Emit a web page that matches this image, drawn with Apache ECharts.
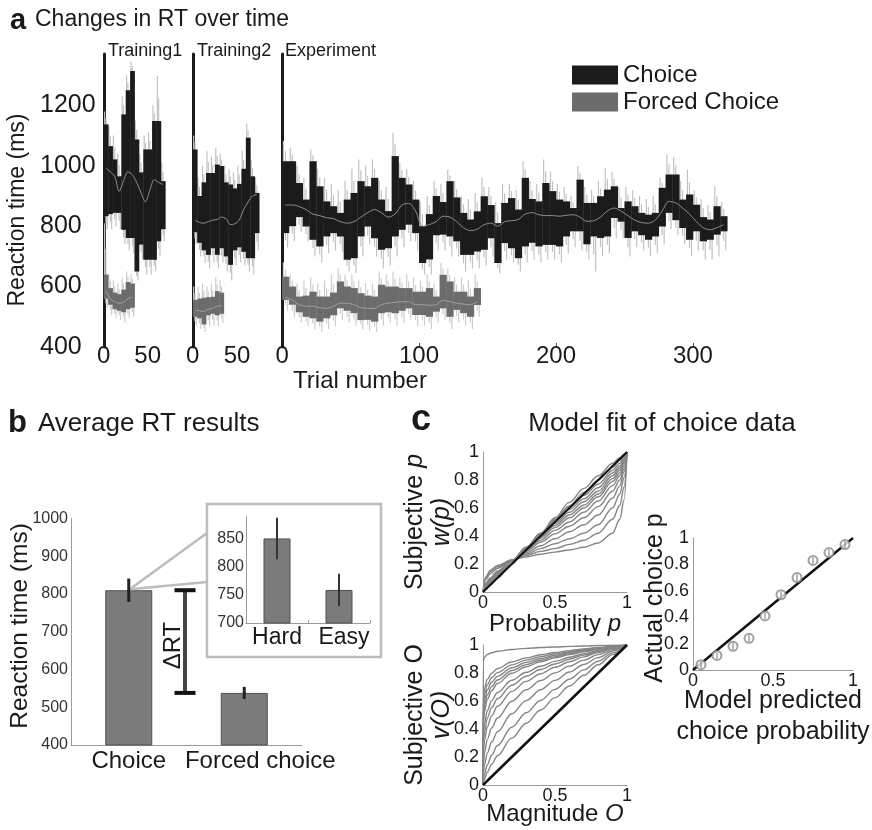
<!DOCTYPE html>
<html><head><meta charset="utf-8">
<script src="https://cdn.jsdelivr.net/npm/echarts@6/dist/echarts.min.js"></script>
<style>html,body{margin:0;padding:0;background:#fff}#c{width:872px;height:830px}</style>
</head><body><div id="c"></div>
<script>
// ---------------- DATA ----------------
const blockSize = 5; // trials per block
const aYTicks = [400, 600, 800, 1000, 1200];
const trainXTicks = [0, 50];
const expXTicks = [0, 100, 200, 300];

// Training1 - choice
const t1Hi   = [1137,1065,1021,965,1170,1250,1314,1087,978,1054,1054,1148,1148,949];
const t1Lo   = [833,840,844,844,788,761,761,650,739,689,689,689,750,790];
const t1Mean = [993,980,965,915,950,980,970,945,910,880,920,954,945,938];
const t1SpHi = [1180,1130,1100,1040,1230,1300,1345,1150,1040,1100,1110,1200,1297,1010];
const t1SpLo = [790,790,800,790,740,720,710,620,690,640,640,650,700,750];
// Training1 - forced
const t1fHi   = [640,595,580,575,590,615,610];
const t1fLo   = [560,540,525,520,515,525,530];
const t1fMean = [585,560,550,545,548,560,565];
const t1fSpHi = [810,640,620,610,630,650,640];
const t1fSpLo = [530,505,495,490,480,495,500];
// Training2 - choice
const t2Hi   = [1054,900,945,976,976,1004,999,945,938,925,940,990,1093,965,910];
const t2Lo   = [780,745,720,705,727,705,727,700,672,720,730,715,694,694,777];
const t2Mean = [820,812,810,815,820,822,830,825,805,808,820,855,880,900,905];
const t2SpHi = [1100,960,1000,1050,1030,1060,1040,1000,990,980,1000,1050,1140,1020,960];
const t2SpLo = [740,700,680,660,680,660,680,650,620,670,680,670,650,640,720];
// Training2 - forced
const t2fHi   = [556,560,563,565,566,585,580];
const t2fLo   = [500,495,475,505,510,505,510];
const t2fMean = [522,520,518,525,528,535,538];
const t2fSpHi = [600,600,610,600,610,630,620];
const t2fSpLo = [470,460,450,470,470,470,480];
// Experiment - choice
const exHi = [1015,1015,943,888,1015,932,882,866,844,888,910,949,932,960,888,850,1032,960,938,888,800,
  840,900,880,949,895,844,822,849,899,870,810,877,893,855,960,890,882,943,916,888,882,
  860,954,877,877,899,921,932,860,882,866,844,838,844,927,971,971,888,905,871,830,822,866,833];
const exLo = [777,800,830,799,755,733,766,777,766,689,694,766,799,760,722,727,766,788,805,777,678,
  690,770,772,766,750,705,705,716,722,760,678,744,727,694,733,745,733,738,738,733,766,
  783,783,740,766,761,766,827,815,761,783,770,755,766,799,844,820,794,755,783,750,755,772,783];
const exMean = [870,870,865,855,840,835,828,825,815,810,815,830,845,855,845,830,840,870,875,850,800,
  805,815,833,830,815,795,785,790,805,810,800,815,818,822,840,845,838,835,835,833,836,
  838,830,816,818,830,850,860,850,835,820,812,810,820,850,882,877,860,840,815,795,788,795,805];
const exSpHi = [1082,1060,1000,960,1054,990,960,940,920,950,990,1021,1000,1021,950,930,1109,1010,990,950,880,
  900,950,940,987,950,900,890,910,960,930,880,940,940,920,1015,950,940,1021,982,940,930,
  900,999,930,920,950,993,980,930,930,920,900,890,900,960,1037,1030,950,987,920,890,870,932,880];
const exSpLo = [730,750,780,750,700,680,710,720,715,650,645,700,740,700,660,670,700,730,750,720,640,
  640,720,720,700,700,650,660,661,670,700,644,690,680,650,680,690,680,690,690,680,710,
  730,720,690,650,700,710,760,760,700,730,720,700,710,740,790,770,740,700,720,690,690,700,720];
// Experiment - forced
const exfHi = [633,600,567,570,583,567,567,580,617,600,595,578,570,567,606,600,600,595,595,583,583,595,567,639,617,583,583,567,595];
const exfLo = [556,540,515,500,495,484,495,505,528,520,512,489,490,484,512,515,512,520,528,506,506,500,517,528,500,523,512,500,539];
const exfMean = [565,555,540,535,535,530,528,535,545,545,540,530,528,528,540,545,548,550,550,540,540,538,540,555,550,545,542,540,550];
const exfSpHi = [680,640,610,620,630,610,620,640,660,640,640,620,610,610,650,640,650,630,640,630,620,640,610,680,660,630,630,620,640];
const exfSpLo = [520,500,480,470,460,450,460,470,490,480,470,460,455,450,470,480,470,480,490,470,470,460,480,490,460,480,470,460,500];

// Panel b
const barCats = ['Choice', 'Forced choice'];
const barMeans = [810, 538];
const barErr = [31, 16];
const insetCats = ['Hard', 'Easy'];
const insetMeans = [851, 759];
const insetErr = [37, 29];

// Panel c
const pGrid = [0,0.02,0.05,0.1,0.2,0.3,0.4,0.5,0.6,0.7,0.8,0.9,0.95,0.98,1];
const wCurves = [
  [0,0.11,0.155,0.19,0.23,0.25,0.27,0.285,0.30,0.32,0.35,0.42,0.52,0.66,1],
  [0,0.10,0.145,0.18,0.225,0.26,0.29,0.31,0.34,0.37,0.42,0.52,0.62,0.75,1],
  [0,0.09,0.13,0.17,0.225,0.27,0.31,0.345,0.38,0.42,0.48,0.60,0.70,0.82,1],
  [0,0.065,0.10,0.15,0.22,0.28,0.33,0.38,0.43,0.48,0.55,0.67,0.76,0.86,1],
  [0,0.06,0.095,0.145,0.225,0.29,0.355,0.415,0.47,0.53,0.61,0.72,0.80,0.88,1],
  [0,0.055,0.09,0.14,0.225,0.30,0.37,0.44,0.50,0.57,0.65,0.76,0.83,0.90,1],
  [0,0.05,0.085,0.135,0.225,0.305,0.385,0.46,0.53,0.60,0.68,0.79,0.85,0.92,1],
  [0,0.045,0.08,0.13,0.225,0.31,0.395,0.475,0.55,0.62,0.70,0.81,0.87,0.93,1],
  [0,0.04,0.075,0.125,0.225,0.315,0.405,0.49,0.57,0.645,0.72,0.83,0.885,0.94,1],
  [0,0.035,0.07,0.12,0.22,0.32,0.415,0.505,0.59,0.665,0.745,0.85,0.90,0.95,1],
  [0,0.03,0.065,0.115,0.22,0.32,0.42,0.52,0.61,0.69,0.77,0.87,0.92,0.96,1],
  [0,0.03,0.065,0.115,0.215,0.315,0.415,0.515,0.615,0.71,0.80,0.89,0.94,0.97,1],
  [0,0.02,0.05,0.10,0.20,0.31,0.42,0.53,0.64,0.74,0.83,0.92,0.96,0.985,1]
];
const oGrid = [0,0.002,0.01,0.03,0.06,0.1,0.2,0.3,0.4,0.5,0.6,0.7,0.8,0.9,1];
const vCurves = [
  [0,0.883,0.912,0.932,0.945,0.955,0.968,0.976,0.982,0.986,0.990,0.993,0.996,0.998,1],
  [0,0.608,0.692,0.755,0.799,0.832,0.879,0.908,0.930,0.946,0.960,0.972,0.982,0.992,1],
  [0,0.554,0.646,0.717,0.766,0.803,0.858,0.892,0.917,0.936,0.952,0.967,0.979,0.990,1],
  [0,0.505,0.602,0.680,0.734,0.776,0.838,0.876,0.904,0.927,0.945,0.962,0.976,0.988,1],
  [0,0.460,0.562,0.645,0.703,0.750,0.818,0.860,0.891,0.917,0.938,0.956,0.972,0.987,1],
  [0,0.419,0.525,0.612,0.674,0.725,0.798,0.845,0.880,0.908,0.931,0.951,0.969,0.985,1],
  [0,0.327,0.437,0.532,0.603,0.661,0.748,0.805,0.848,0.883,0.912,0.938,0.961,0.981,1],
  [0,0.271,0.380,0.479,0.554,0.616,0.713,0.777,0.825,0.864,0.898,0.928,0.954,0.978,1],
  [0,0.211,0.316,0.416,0.495,0.562,0.669,0.740,0.795,0.841,0.880,0.915,0.946,0.974,1],
  [0,0.137,0.229,0.326,0.407,0.479,0.598,0.680,0.746,0.801,0.849,0.892,0.931,0.967,1],
  [0,0.074,0.145,0.229,0.307,0.380,0.509,0.603,0.680,0.747,0.807,0.861,0.910,0.957,1],
  [0,0.033,0.079,0.145,0.213,0.282,0.413,0.516,0.604,0.683,0.755,0.822,0.884,0.944,1],
  [0,0.015,0.044,0.092,0.148,0.209,0.335,0.441,0.536,0.624,0.707,0.784,0.859,0.931,1]
];
const predP = [0.05,0.15,0.25,0.35,0.45,0.55,0.65,0.75,0.85,0.95];
const actualP = [0.04,0.11,0.18,0.24,0.41,0.57,0.70,0.83,0.89,0.95];
const actualErr = [0.025,0.025,0.025,0.025,0.025,0.025,0.025,0.025,0.025,0.025];

// ---------------- LAYOUT / STYLE ----------------
const FONT = '"Liberation Sans", Arial, Helvetica, sans-serif';
const TXT = '#1a1a1a';
const AX = '#9a9a9a';
const G = {
  t1: {left:102, top:54, width:65, height:293},
  t2: {left:191, top:54, width:69, height:293},
  ex: {left:280, top:54, width:454, height:293},
  b:  {left:71, top:518.5, width:231, height:226.5},
  ins:{left:246, top:516.6, width:124, height:106.4},
  c1: {left:483, top:452, width:144, height:140},
  c2: {left:483, top:645, width:144, height:140},
  c3: {left:693, top:538, width:160, height:132}
};
const insetBox = {x:207, y:504, w:174, h:153};
const CH_DARK = '#1b1b1b', CH_LIGHT = '#c2c2c2', CH_MEAN = '#8e8e8e';
const FC_DARK = '#6c6c6c', FC_LIGHT = '#cdcdcd', FC_MEAN = '#a0a0a0';
const plain = v => String(v);

function rectRender(color) {
  return function (params, api) {
    const a = api.coord([api.value(0), api.value(3)]);
    const b = api.coord([api.value(1), api.value(2)]);
    return {type:'rect', shape:{x:a[0], y:a[1], width:b[0]-a[0]+0.4, height:b[1]-a[1]}, style:{fill:color}};
  };
}
// halo: thin spikes within each block (dims: start, end, lo, hi, spikeLo, spikeHi)
function spikeRender(color) {
  return function (params, api) {
    const x0 = api.value(0), x1 = api.value(1);
    const lo = api.value(2), hi = api.value(3), sLo = api.value(4), sHi = api.value(5);
    const seg = (f, top, bot) => {
      const a = api.coord([x0 + (x1 - x0) * f, top]), b = api.coord([x0 + (x1 - x0) * f, bot]);
      return {type:'line', shape:{x1:a[0], y1:a[1], x2:b[0], y2:b[1]}, style:{stroke:color, lineWidth:1.2}};
    };
    return {type:'group', children:[
      seg(0.2, sHi, lo),
      seg(0.5, (hi + sHi) / 2, (lo + sLo) / 2),
      seg(0.8, hi, sLo)
    ]};
  };
}
function blocks(lo, hi) { return hi.map((h, k) => [k*blockSize, (k+1)*blockSize, lo[k], h]); }
function bandSet(g, name, d, dark, light, meanColor) {
  return [
    {type:'custom', name:'halo', xAxisIndex:g, yAxisIndex:g, silent:true, z:1,
     data: d.hi.map((h, k) => [k*blockSize, (k+1)*blockSize, d.lo[k], h, d.spLo[k], d.spHi[k]]),
     renderItem: spikeRender(light)},
    {type:'custom', name:name, xAxisIndex:g, yAxisIndex:g, silent:true, z:2, itemStyle:{color:dark},
     data: blocks(d.lo, d.hi), renderItem: rectRender(dark)},
    {type:'line', name:'mean', xAxisIndex:g, yAxisIndex:g, silent:true, z:3, symbol:'none', smooth:0.3,
     lineStyle:{color:meanColor, width:1}, data: d.mean.map((m, k) => [k*blockSize + blockSize/2, m])}
  ];
}
const segs = [
  {g:0, ch:{hi:t1Hi, lo:t1Lo, mean:t1Mean, spHi:t1SpHi, spLo:t1SpLo}, fc:{hi:t1fHi, lo:t1fLo, mean:t1fMean, spHi:t1fSpHi, spLo:t1fSpLo}},
  {g:1, ch:{hi:t2Hi, lo:t2Lo, mean:t2Mean, spHi:t2SpHi, spLo:t2SpLo}, fc:{hi:t2fHi, lo:t2fLo, mean:t2fMean, spHi:t2fSpHi, spLo:t2fSpLo}},
  {g:2, ch:{hi:exHi, lo:exLo, mean:exMean, spHi:exSpHi, spLo:exSpLo}, fc:{hi:exfHi, lo:exfLo, mean:exfMean, spHi:exfSpHi, spLo:exfSpLo}}
];

// ---------------- AXES ----------------
const grids = [G.t1, G.t2, G.ex, G.b, G.ins, G.c1, G.c2, G.c3];
const noSplit = {show:false};
function aX(min, max, ticks, tickMarks) {
  return {type:'value', min:min, max:max, splitLine:noSplit,
    axisLine:{show:false},
    axisTick: tickMarks ? {show:true, inside:true, length:4, customValues:tickMarks, lineStyle:{color:'#555', width:1}} : {show:false},
    axisLabel:{customValues:ticks, fontSize:24, color:TXT, margin:-3, formatter:plain}};
}
function aY(showLabels) {
  return {type:'value', min:400, max:1370, interval:200, splitLine:noSplit,
    axisLine:{show:true, lineStyle:{color:'#1a1a1a', width:3}}, axisTick:{show:false},
    axisLabel: showLabels ? {customValues:aYTicks, fontSize:25, color:TXT, align:'left', margin:62, formatter:plain} : {show:false}};
}
const richName = (size, lh) => ({
  n:{fontSize:size, color:TXT, lineHeight:lh, fontFamily:FONT},
  i:{fontSize:size, color:TXT, lineHeight:lh, fontStyle:'italic', fontFamily:FONT}
});
function cX(name, gap) {
  return {type:'value', min:0, max:1, interval:0.5, splitLine:noSplit,
    axisLine:{show:true, onZero:false, lineStyle:{color:AX, width:1}}, axisTick:{show:false},
    axisLabel:{fontSize:18, color:TXT, margin:2, formatter:plain},
    name:name, nameLocation:'middle', nameGap:gap, nameMoveOverlap:false,
    nameTextStyle:{fontSize:24, color:TXT, rich:richName(24, 26)}};
}
function cY(name, gap, size, lh) {
  return {type:'value', min:0, max:1, interval:0.2, splitLine:noSplit,
    axisLine:{show:true, onZero:false, lineStyle:{color:AX, width:1}}, axisTick:{show:false},
    axisLabel:{fontSize:18, color:TXT, margin:4, formatter:plain},
    name:name, nameLocation:'middle', nameRotate:90, nameGap:gap, nameMoveOverlap:false,
    nameTextStyle:{fontSize:size, color:TXT, lineHeight:lh, rich:richName(size, lh)}};
}

const xAxis = [
  aX(-2, 72, trainXTicks, null),
  aX(-2, 76, trainXTicks, null),
  aX(-1.5, 330, expXTicks, [100, 200, 300]),
  {type:'category', data:barCats, axisLine:{lineStyle:{color:AX, width:1}}, axisTick:{show:false},
   axisLabel:{interval:0, fontSize:24, color:TXT, margin:4,
     formatter: v => v === barCats[1] ? '{f|' + v + '}' : v,
     rich:{f:{fontSize:24, color:TXT, padding:[0,0,0,32], fontFamily:FONT}}}},
  {type:'category', data:insetCats, axisLine:{lineStyle:{color:AX, width:1}},
   axisTick:{show:true, inside:true, length:3, lineStyle:{color:AX}},
   axisLabel:{interval:0, fontSize:23, color:TXT, margin:3,
     formatter: v => v === insetCats[1] ? '{f|' + v + '}' : v,
     rich:{f:{fontSize:23, color:TXT, padding:[0,0,0,10], fontFamily:FONT}}}},
  cX('{n|Probability }{i|p}', 19),
  cX('{n|Magnitude }{i|O}', 16),
  Object.assign(cX('Model predicted\nchoice probability', 16), {nameTextStyle:{fontSize:25, lineHeight:31, color:TXT}})
];
xAxis.forEach((a, i) => a.gridIndex = i);
const yAxis = [
  aY(true), aY(false), aY(false),
  {type:'value', min:400, max:1000, interval:100, splitLine:noSplit,
   axisLine:{show:true, lineStyle:{color:AX, width:1}}, axisTick:{show:false},
   axisLabel:{fontSize:16, color:'#333', margin:3, formatter:plain}},
  {type:'value', min:700, max:890, interval:50, splitLine:noSplit,
   axisLine:{show:true, lineStyle:{color:AX, width:1}}, axisTick:{show:false},
   axisLabel:{customValues:[700,750,800,850], fontSize:16, color:'#333', margin:2, formatter:plain}},
  cY('{n|Subjective }{i|p}\n{i|w(p)}', 27.5, 25, 27),
  cY('{n|Subjective O}\n{i|v(O)}', 27.5, 25, 27),
  Object.assign(cY('Actual choice p', 25.5, 25, 27), {nameTextStyle:{fontSize:25, color:TXT, padding:[0,0,0,12]}})
];
yAxis.forEach((a, i) => a.gridIndex = i);

// ---------------- SERIES ----------------
const series = [];
segs.forEach(s => {
  series.push(...bandSet(s.g, 'Choice', s.ch, CH_DARK, CH_LIGHT, CH_MEAN));
  series.push(...bandSet(s.g, 'Forced Choice', s.fc, FC_DARK, FC_LIGHT, FC_MEAN));
});

function errRender(color, width) {
  return function (params, api) {
    const x = api.value(0), m = api.value(1), e = api.value(2);
    const a = api.coord([x, m + e]), b = api.coord([x, m - e]);
    return {type:'line', shape:{x1:a[0], y1:a[1], x2:b[0], y2:b[1]}, style:{stroke:color, lineWidth:width}};
  };
}
// panel b main
series.push({type:'bar', xAxisIndex:3, yAxisIndex:3, data:barMeans, barWidth:47, silent:true,
  itemStyle:{color:'#7b7b7b', borderColor:'#4f4f4f', borderWidth:1}});
series.push({type:'custom', xAxisIndex:3, yAxisIndex:3, silent:true, z:4,
  data: barMeans.map((m, i) => [i, m, barErr[i]]), renderItem: errRender('#222', 3)});
// delta RT bracket
series.push({type:'custom', xAxisIndex:3, yAxisIndex:3, silent:true, z:4,
  data: [[0, barMeans[0], barMeans[1]]],
  renderItem: function (params, api) {
    const a = api.coord([0, api.value(1)]), b = api.coord([1, api.value(2)]);
    const x = (a[0] + b[0]) / 2 - 1.5, half = 10.5;
    return {type:'group', children:[
      {type:'line', shape:{x1:x, y1:a[1], x2:x, y2:b[1]}, style:{stroke:'#444', lineWidth:4}},
      {type:'line', shape:{x1:x-half, y1:a[1], x2:x+half, y2:a[1]}, style:{stroke:'#111', lineWidth:4}},
      {type:'line', shape:{x1:x-half, y1:b[1], x2:x+half, y2:b[1]}, style:{stroke:'#111', lineWidth:4}},
      {type:'text', x:x-12, y:(a[1]+b[1])/2 + 4, rotation:Math.PI/2,
       style:{text:'\u0394RT', fontSize:24, fontFamily:FONT, fill:TXT, align:'center', verticalAlign:'middle'}}
    ]};
  }});
// zoom lines to inset
series.push({type:'custom', xAxisIndex:3, yAxisIndex:3, silent:true, z:3,
  data: [[0, barMeans[0]]],
  renderItem: function (params, api) {
    const a = api.coord([0, api.value(1)]);
    const sx = a[0] + 1, sy = a[1] - 1;
    return {type:'group', children:[
      {type:'line', shape:{x1:sx, y1:sy, x2:insetBox.x, y2:insetBox.y + 29}, style:{stroke:'#bdbdbd', lineWidth:2.5}},
      {type:'line', shape:{x1:sx, y1:sy, x2:insetBox.x, y2:insetBox.y + 78}, style:{stroke:'#bdbdbd', lineWidth:2.5}}
    ]};
  }});
// inset
series.push({type:'bar', xAxisIndex:4, yAxisIndex:4, data:insetMeans, barWidth:27, silent:true,
  itemStyle:{color:'#7b7b7b', borderColor:'#4f4f4f', borderWidth:1}});
series.push({type:'custom', xAxisIndex:4, yAxisIndex:4, silent:true, z:4,
  data: insetMeans.map((m, i) => [i, m, insetErr[i]]), renderItem: errRender('#333', 2)});

// panel c1
wCurves.forEach(c => series.push({type:'line', xAxisIndex:5, yAxisIndex:5, silent:true, symbol:'none',
  smooth:0.35, smoothMonotone:'x', lineStyle:{color:'#858585', width:1.4},
  data: pGrid.map((p, i) => [p, c[i]])}));
series.push({type:'line', xAxisIndex:5, yAxisIndex:5, silent:true, symbol:'none', z:5,
  lineStyle:{color:'#111', width:2}, data:[[0,0],[1,1]]});
// panel c2
vCurves.forEach(c => series.push({type:'line', xAxisIndex:6, yAxisIndex:6, silent:true, symbol:'none',
  smooth:0.35, smoothMonotone:'x', lineStyle:{color:'#858585', width:1.4},
  data: oGrid.map((o, i) => [o, c[i]])}));
series.push({type:'line', xAxisIndex:6, yAxisIndex:6, silent:true, symbol:'none', z:5,
  lineStyle:{color:'#111', width:2.5}, data:[[0,0],[1,1]]});
// panel c3
series.push({type:'line', xAxisIndex:7, yAxisIndex:7, silent:true, symbol:'none', z:3,
  lineStyle:{color:'#111', width:2.5}, data:[[0,0],[1,1]]});
series.push({type:'scatter', xAxisIndex:7, yAxisIndex:7, silent:true, z:4, symbol:'emptyCircle', symbolSize:9,
  itemStyle:{color:'#8a8a8a', borderWidth:1.3}, data: predP.map((p, i) => [p, actualP[i]])});
series.push({type:'custom', xAxisIndex:7, yAxisIndex:7, silent:true, z:5,
  data: predP.map((p, i) => [p, actualP[i], actualErr[i]]), renderItem: errRender('#8a8a8a', 1.2)});

// ---------------- TEXT ----------------
const t = (x, y, text, size, opts) => Object.assign({type:'text', x:x, y:y, silent:true,
  style:Object.assign({text:text, fontSize:size, fontFamily:FONT, fill:TXT, align:'left', verticalAlign:'middle'}, (opts||{}).style || {})},
  opts && opts.rotation ? {rotation:opts.rotation} : {});
const graphic = [
  t(10, 21, 'a', 29, {style:{fontWeight:'bold'}}),
  t(35, 20, 'Changes in RT over time', 23),
  t(108, 51, 'Training1', 18),
  t(197, 51, 'Training2', 18),
  t(285, 51, 'Experiment', 18),
  t(360, 381, 'Trial number', 24, {style:{align:'center'}}),
  t(18, 210, 'Reaction time (ms)', 23, {rotation:Math.PI/2, style:{align:'center'}}),
  t(8, 423, 'b', 31, {style:{fontWeight:'bold'}}),
  t(38, 423.5, 'Average RT results', 26),
  t(20, 626, 'Reaction time (ms)', 24.5, {rotation:Math.PI/2, style:{align:'center'}}),
  t(411, 420, 'c', 36, {style:{fontWeight:'bold'}}),
  t(662, 424, 'Model fit of choice data', 26, {style:{align:'center'}}),
  {type:'rect', silent:true, shape:{x:insetBox.x, y:insetBox.y, width:insetBox.w, height:insetBox.h},
   style:{fill:'none', stroke:'#bdbdbd', lineWidth:2.5}}
];

const option = {
  animation:false,
  backgroundColor:'#fff',
  textStyle:{fontFamily:FONT},
  grid: grids.map(g => Object.assign({containLabel:false}, g)),
  xAxis: xAxis,
  yAxis: yAxis,
  legend: {orient:'vertical', left:567, top:58, itemWidth:46, itemHeight:19, itemGap:3, selectedMode:false,
    textStyle:{fontSize:24, color:TXT},
    data:[{name:'Choice', icon:'rect', itemStyle:{color:CH_DARK}}, {name:'Forced Choice', icon:'rect', itemStyle:{color:FC_DARK}}]},
  graphic: graphic,
  series: series
};
const chart = echarts.init(document.getElementById('c'), null, {width:872, height:830});
chart.setOption(option);
</script>
</body></html>
